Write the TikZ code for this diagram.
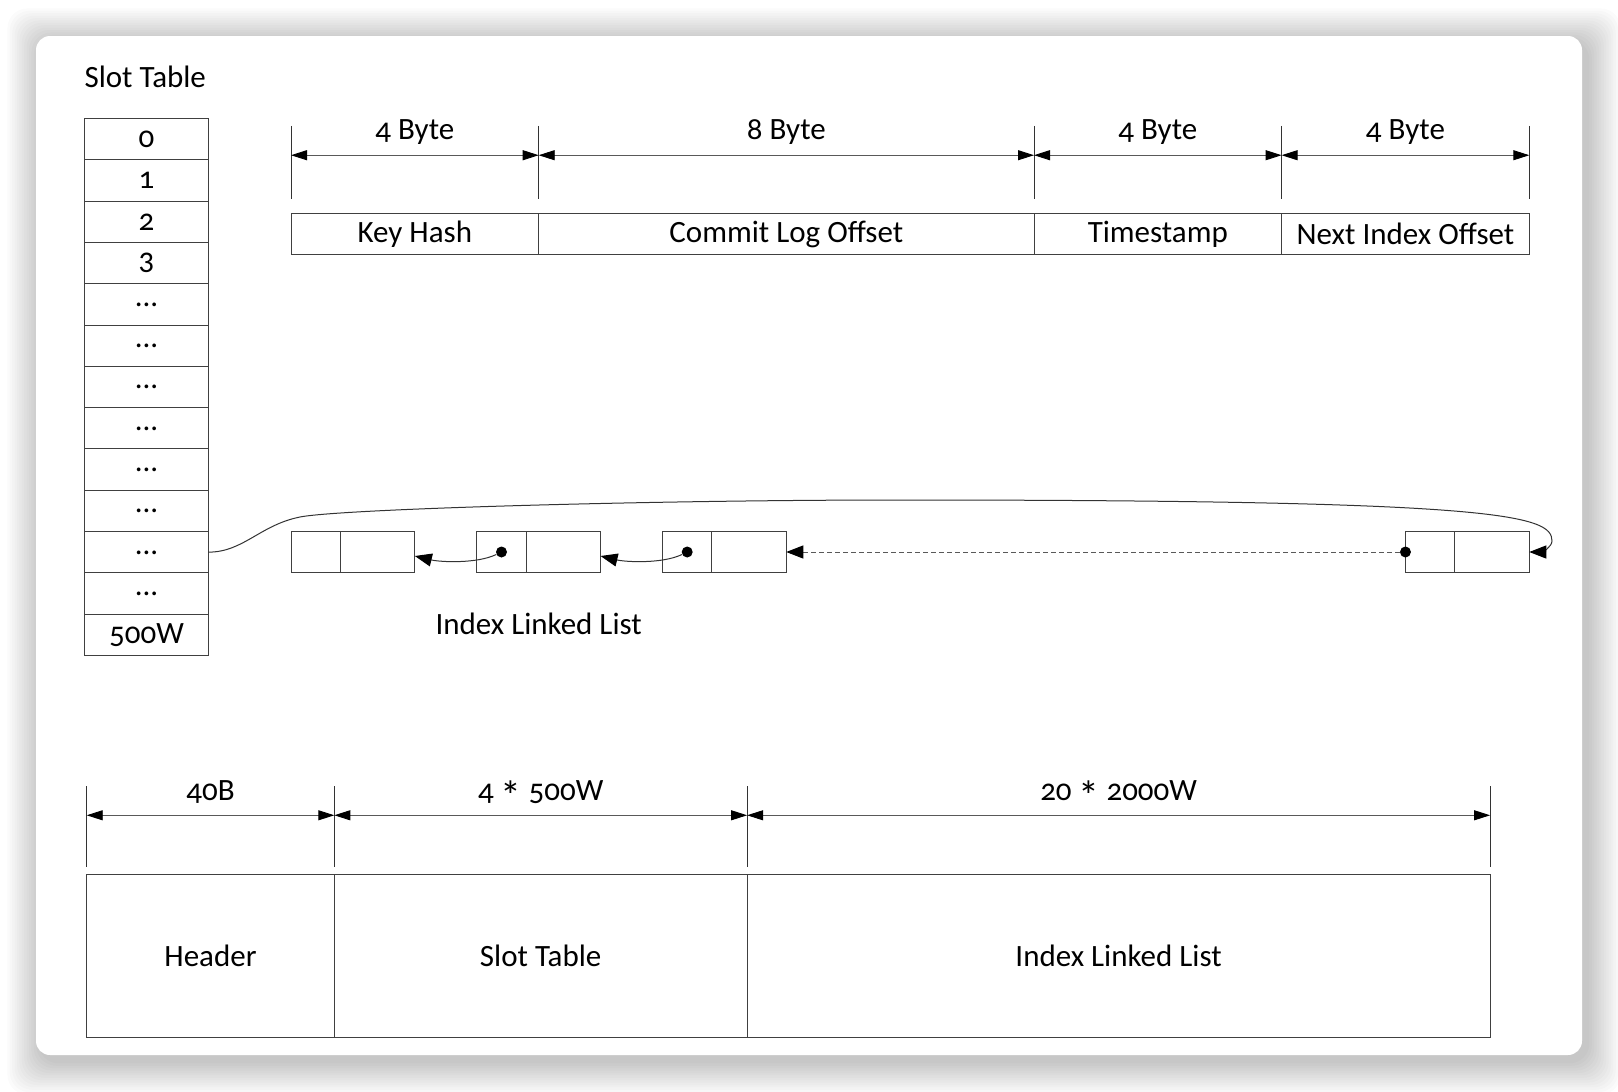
\documentclass[tikz,border=0pt]{standalone}
\usepackage{fontspec}
\setmainfont{Carlito}[Numbers=OldStyle]
\usetikzlibrary{arrows.meta, positioning, calc}
\newcommand{\bigast}{\raisebox{-10pt}{\scalebox{1.35}{*}}}

\begin{document}
\begin{tikzpicture}[x=1pt, y=1pt, font=\fontsize{31}{37}\selectfont,
    cell/.style={draw=black!75, line width=1pt, inner sep=0pt, outer sep=0pt, minimum height=41.3pt},
    dimtick/.style={draw=black!80, line width=0.9pt},
    dimarrow/.style={draw=black!65, line width=0.9pt, {Triangle[length=16pt,width=10pt,color=black]}-{Triangle[length=16pt,width=10pt,color=black]}},
    link/.style={draw=black!80, line width=1pt, -{Triangle[length=17pt,width=13pt,color=black]}},
    ptr/.style={fill=black, circle, inner sep=0pt, minimum size=11pt}]
    % page and card with soft shadow
    \fill[white] (0,0) rectangle (1618,-1092);
    \useasboundingbox (0,0) rectangle (1618,-1092);
    \foreach \k in {1,...,14}
        \fill[black, opacity=0.016, rounded corners=20pt] ({41-\k*2.4},{-42+\k*2.4}) rectangle ({1587+\k*2.4},{-1061-\k*2.4});
    \fill[white, rounded corners=14pt] (36,-36) rectangle (1582,-1055);

    % slot table
    \node[anchor=base west] (slottitle) at (81,-87.7) {Slot Table};
    \foreach \i in {0,...,12}
        \node[cell, minimum width=123.8pt] (slot\i) at (146.5,{-118.7-41.28*(\i+0.5)})
            {\ifnum\i<4 \i\else\ifnum\i=12 500W\else\raisebox{-4pt}{...}\fi\fi};

    % index entry layout
    \node[cell, minimum width=247.7pt] (keyhash) at (414.85,-234.3) {Key Hash};
    \node[cell, minimum width=495.3pt, right=0pt of keyhash] (cloffset) {Commit Log Offset};
    \node[cell, minimum width=247.6pt, right=0pt of cloffset] (tstamp) {Timestamp};
    \node[cell, minimum width=247.7pt, right=0pt of tstamp] (nextidx) {Next Index Offset};
    \foreach \f/\n in {keyhash.west/0, keyhash.east/1, cloffset.east/2, tstamp.east/3, nextidx.east/4}
        \draw[dimtick] (\f |- 0,-125.9) -- (\f |- 0,-199.2) coordinate[pos=0.4] (bt\n);
    \foreach \a/\b/\txt in {0/1/4 Byte, 1/2/8 Byte, 2/3/4 Byte, 3/4/4 Byte}
        \draw[dimarrow] (bt\a) -- node[midway, anchor=base, yshift=15.5pt] {\txt} (bt\b);

    % index linked list
    \node[cell, minimum width=49.5pt] (n1l) at (315.8,-552) {};
    \node[cell, minimum width=74.3pt, right=0pt of n1l] (n1r) {};
    \node[cell, minimum width=49.5pt] (n2l) at (501.5,-552) {};
    \node[cell, minimum width=74.3pt, right=0pt of n2l] (n2r) {};
    \node[cell, minimum width=49.5pt] (n3l) at (687.2,-552) {};
    \node[cell, minimum width=74.3pt, right=0pt of n3l] (n3r) {};
    \node[cell, minimum width=49.5pt] (n4l) at (1430.2,-552) {};
    \node[cell, minimum width=74.3pt, right=0pt of n4l] (n4r) {};
    \node[ptr] (p2) at (n2l.center) {};
    \node[ptr] (p3) at (n3l.center) {};
    \node[ptr] (p4) at (n4l.west) {};
    \node[anchor=base] (listlabel) at (538.7,-634.6) {Index Linked List};

    \draw[link] (p2) .. controls +(-25,-12) and +(25,-6) .. ([yshift=-4pt]n1r.east);
    \draw[link] (p3) .. controls +(-25,-12) and +(25,-6) .. ([yshift=-4pt]n2r.east);
    \draw[link, draw=black!65, dash pattern=on 5pt off 3pt] (p4) -- (n3r.east);
    \draw[link] (slot10.east) .. controls +(35,0) and +(-40,-8) .. (300,-517)
        .. controls +(40,8) and +(-250,0) .. (900,-500)
        .. controls +(600,0) and +(0,26) .. (1552,-541)
        .. controls +(0,-6) and +(12,0) .. (n4r.east);

    % file layout
    \node[cell, minimum width=247.6pt, minimum height=163pt] (header) at (210.5,-955.5) {Header};
    \node[cell, minimum width=412.8pt, minimum height=163pt, right=0pt of header] (slotpart) {Slot Table};
    \node[cell, minimum width=743pt, minimum height=163pt, right=0pt of slotpart] (listpart) {Index Linked List};
    \foreach \f/\n in {header.west/0, header.east/1, slotpart.east/2, listpart.east/3}
        \draw[dimtick] (\f |- 0,-786.3) -- (\f |- 0,-866.8) coordinate[pos=0.36] (bb\n);
    \foreach \a/\b/\txt in {0/1/40B, 1/2/4 \bigast{} 500W, 2/3/20 \bigast{} 2000W}
        \draw[dimarrow] (bb\a) -- node[midway, anchor=base, yshift=15pt] {\txt} (bb\b);
\end{tikzpicture}
\end{document}
